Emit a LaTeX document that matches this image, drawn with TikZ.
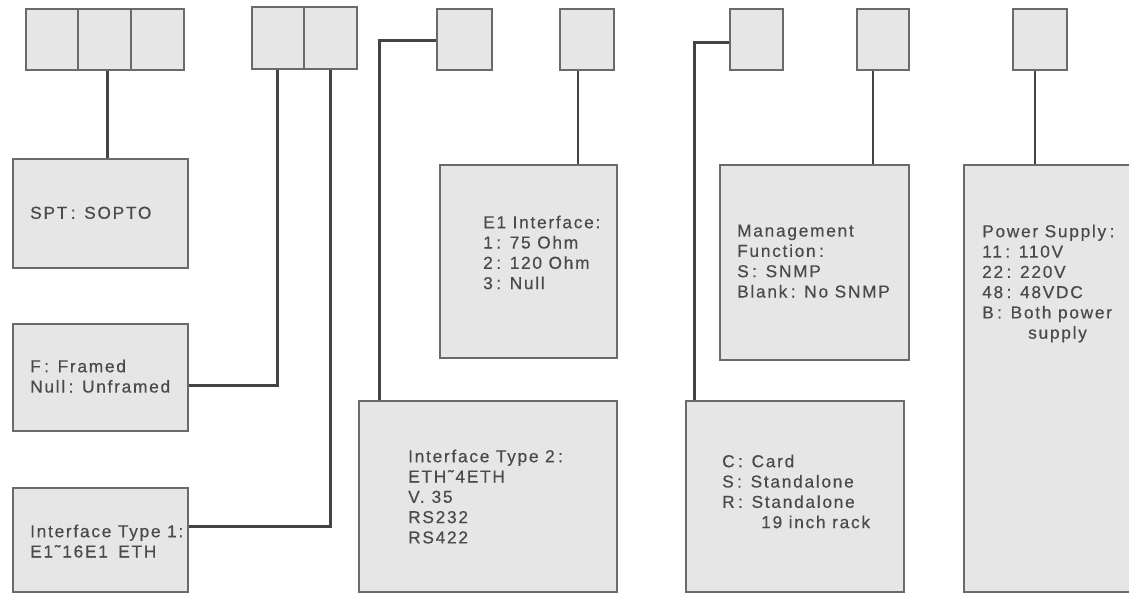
\documentclass[tikz,border=0pt]{standalone}
\usepackage{fontspec}
\newfontfamily\lbl{Liberation Sans}[LetterSpace=10,FakeBold=0.4]
\definecolor{boxc}{HTML}{E6E6E6}
\definecolor{bordc}{HTML}{6A6A6A}
\definecolor{linec}{HTML}{444444}
\definecolor{txtc}{HTML}{4A4A4A}
\newcommand\cln{\hspace{0.2em}:\hspace{0.5em}}
\newcommand\bx[5]{\node[box,minimum width=#4pt,minimum height=#5pt] (#1) at (#2,#3) {};}
\begin{document}
\begin{tikzpicture}[x=1pt,y=-1pt,
  box/.style={draw=bordc, fill=boxc, line width=2pt, inner sep=0pt, anchor=north west},
  txt/.style={anchor=north west, inner sep=0pt, align=left, text=txtc, font=\lbl\fontsize{17.3}{20.3}\selectfont},
  conn/.style={draw=linec, line width=2.2pt}]
\useasboundingbox (0,0) rectangle (1129,593);
% top code boxes
\bx{c3a}{25}{8}{52}{61}
\bx{c3b}{77}{8}{53}{61}
\bx{c3c}{130}{8}{53}{61}
\bx{c2a}{251}{6}{52}{62}
\bx{c2b}{303}{6}{53}{62}
\bx{s1}{436}{8}{55}{61}
\bx{s2}{559}{8}{54}{61}
\bx{s3}{729}{8}{53}{61}
\bx{s4}{856}{8}{52}{61}
\bx{s5}{1012}{8}{54}{61}
% description boxes
\bx{spt}{12}{158}{175}{109}
\bx{fbx}{12}{323}{175}{107}
\bx{it1}{12}{487}{175}{104}
\bx{e1}{439}{164}{177}{193}
\bx{it2}{358}{400}{258}{191}
\bx{mg}{719}{164}{189}{195}
\bx{cb}{685}{400}{218}{191}
\bx{pw}{963}{164}{180}{427}
% connectors
\draw[conn] ([xshift=3pt]c3b.south) -- ([xshift=3pt]c3b.south |- spt.north);
\draw[conn] ([xshift=-0.5pt]c2a.south) |- ([yshift=-8pt]fbx.east);
\draw[conn] (c2b.south) |- ([yshift=13.5pt]it1.east);
\draw[conn] ([yshift=-1pt]s1.west) -| ([xshift=21.5pt]it2.north west);
\draw[conn] ([xshift=-9pt]s2.south) -- ([xshift=-9pt]s2.south |- e1.north);
\draw[conn] ([yshift=-3pt]s3.west) -| ([xshift=9.5pt]cb.north west);
\draw[conn] ([xshift=-10pt]s4.south) -- ([xshift=-10pt]s4.south |- mg.north);
\draw[conn] ([xshift=-5pt]s5.south) -- ([xshift=-5pt]s5.south |- pw.north);
% texts
\node[txt] (tspt) at (30,206.5) {SPT\cln SOPTO};
\node[txt] (tf) at (30,359.5) {F\cln Framed\\Null\cln Unframed};
\node[txt] (tit1) at (30,524.5) {Interface Type 1:\\E1˜16E1\hspace{0.6em}ETH};
\node[txt] (te1) at (483,215.5) {E1 Interface:\\1\cln 75 Ohm\\2\cln 120 Ohm\\3\cln Null};
\node[txt] (tit2) at (408,449.5) {Interface Type 2\cln\\ETH˜4ETH\\V.\hspace{0.4em}35\\RS232\\RS422};
\node[txt] (tmg) at (737,224.5) {Management\\Function\cln\\S\cln SNMP\\Blank\cln No SNMP};
\node[txt] (tc) at (722,454.5) {C\cln Card\\S\cln Standalone\\R\cln Standalone\\\hspace{39pt}19 inch rack};
\node[txt] (tpw) at (982,224.5) {Power Supply\cln\\11\cln 110V\\22\cln 220V\\48\cln 48VDC\\B\cln Both power\\\hspace{46pt}supply};
\end{tikzpicture}
\end{document}
